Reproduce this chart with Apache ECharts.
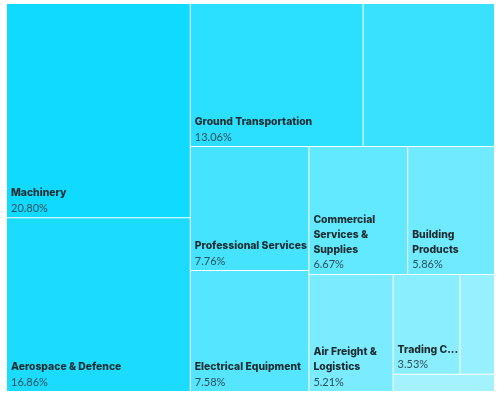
<!DOCTYPE html>
<html><head><meta charset="utf-8">
<script src="https://cdn.jsdelivr.net/npm/echarts@6/dist/echarts.min.js"></script>
<style>html,body{margin:0;padding:0;background:#fff;} #c{width:504px;height:396px;}</style>
</head><body><div id="c"></div>
<script>
const categories = ["Machinery","Aerospace & Defence","Ground Transportation","Unlabelled A","Professional Services","Electrical Equipment","Commercial Services & Supplies","Building Products","Air Freight & Logistics","Trading Companies & Distributors","Unlabelled B","Unlabelled C"];
const shares = [20.80,16.86,13.06,9.93,7.76,7.58,6.67,5.86,5.21,3.53,1.82,0.92];
const labelLines = ["Machinery","Aerospace & Defence","Ground Transportation","","Professional Services","Electrical Equipment","Commercial\nServices &\nSupplies","Building\nProducts","Air Freight &\nLogistics","Trading C...","",""];
const palette = ["#10daff","#1bdcff","#2adfff","#3ae1ff","#46e3ff","#55e5ff","#62e8ff","#70eaff","#7bebff","#8aeeff","#97f0ff","#a5f2ff"];

const LINE_H = 15;
const leafObjs = [];
function leaf(i){
  const o = {name: categories[i], value: shares[i], idx: i,
    itemStyle: {color: palette[i]},
    label: {show: labelLines[i] !== ''}};
  leafObjs[i] = o;
  return o;
}
const data = [];
for (let i = 0; i < 9; i++) data.push(leaf(i));
data.push({name: 'group-tail', children: [
  {name: 'group-tail-top', children: [leaf(9), leaf(10)]},
  leaf(11)
]});

const chart = echarts.init(document.getElementById('c'), null, {renderer: 'canvas'});
function buildOption(){
  return {
    animation: false,
    series: [{
      type: 'treemap',
      left: 7, top: 4, right: 10, bottom: 5,
      roam: false, nodeClick: false,
      breadcrumb: {show: false},
      sort: false,
      squareRatio: 1,
      itemStyle: {gapWidth: 1, borderWidth: 0, borderColor: '#fff'},
      emphasis: {disabled: true},
      label: {
        show: true, position: 'insideTopLeft', align: 'left', verticalAlign: 'top',
        distance: 0, padding: [0, 4, 1, 4], overflow: 'none',
        formatter: function(p){
          const i = p.data.idx;
          const parts = labelLines[i].split('\n').map(s => '{n|' + s + '}');
          return parts.join('\n') + '\n{v|' + shares[i].toFixed(2) + '%}';
        },
        rich: {
          n: {fontFamily: 'Inter', fontWeight: 800, fontSize: 10.4, lineHeight: LINE_H, color: '#1c2c2e', align: 'left'},
          v: {fontFamily: 'Lato', fontSize: 11, lineHeight: LINE_H, color: '#2e5058', align: 'left'}
        }
      },
      data: data
    }]
  };
}
chart.setOption(buildOption());
// Push each label to the bottom of its own cell, using the cell size laid out by ECharts
const sData = chart.getModel().getSeriesByIndex(0).getData();
sData.tree.root.eachNode(function(node){
  const opt = node.getModel().option;
  if (!opt || opt.idx == null) return;
  const lay = node.getLayout();
  if (!lay) return;
  const nLines = labelLines[opt.idx].split('\n').length + 1;
  const padB = 1.5;
  const padT = Math.max(0, lay.height - nLines * LINE_H - padB);
  leafObjs[opt.idx].label.padding = [padT, 4, padB, 4];
  leafObjs[opt.idx].label.align = 'left';
});
chart.setOption(buildOption(), true);
</script></body></html>
